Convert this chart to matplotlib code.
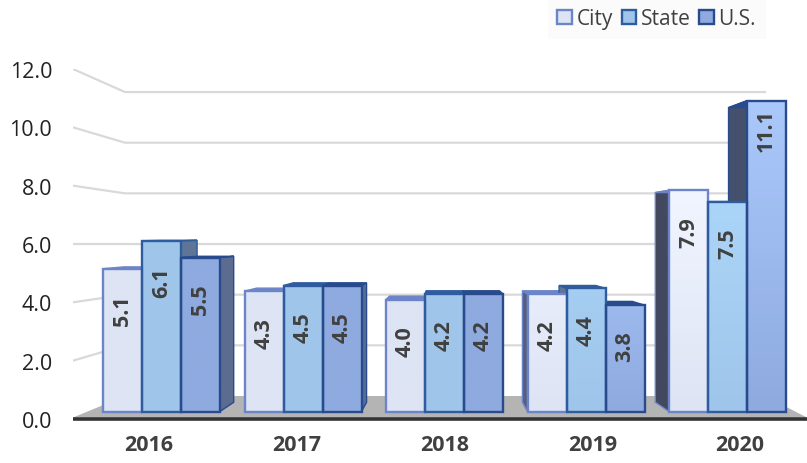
import numpy as np
import matplotlib
matplotlib.use('Agg')
import matplotlib.pyplot as plt
from matplotlib.colors import to_rgb
from matplotlib.patches import Patch, Polygon, Rectangle

years = ['2016', '2017', '2018', '2019', '2020']
city = [5.1, 4.3, 4.0, 4.2, 7.9]
state = [6.1, 4.5, 4.2, 4.4, 7.5]
us = [5.5, 4.5, 4.2, 3.8, 11.1]
y_ticks = [0, 2, 4, 6, 8, 10, 12]

names = ['City', 'State', 'U.S.']
fills = ['#dde4f4', '#9fc6ea', '#8eaadf']
tops = ['#f1f5ff', '#abd5f8', '#abc8fb']
edges = ['#6c84c8', '#2f5c9f', '#274b8c']
sides = ['#56607e', '#5f7596', '#5c6c90']
fade = [0, 0, 0, 0.5, 1]

W, H = 807, 464
plt.rcParams['font.family'] = ['Open Sans', 'DejaVu Sans']
fig = plt.figure(figsize=(W / 100, H / 100), dpi=100)
ax = fig.add_axes([73 / W, 1 - 420 / H, (807 - 73) / W, 350 / H])

# one group step = 141.5 px, one tick unit = 29.17 px
step = 141.5
unit = 350 / 12
ax.set_xlim((73 - 161.5) / step, (807 - 161.5) / step)
ax.set_ylim(0, 12)
bar_w = 39 / step


def front_y(v):
    return 7.5 / unit + v * 28 / unit


def wall_y(v):
    return 23 / unit + v * 25.33 / unit


def back(x, y):
    # depth goes towards a vanishing point behind the middle group
    return x + 0.061 * (2 - x), y + 0.052 * (185 / unit - y)


x0, x1 = ax.get_xlim()
wall_l, wall_r = (125 - 161.5) / step, (765 - 161.5) / step

# floor
ax.add_patch(Polygon([(x0, 0.05), (wall_l, wall_y(0)), (wall_r, wall_y(0)), (x1, 0.05)],
                     fc='#b4b4b4', ec='none', zorder=1))

# grid on the wall and the side
for t in y_ticks[1:]:
    ax.plot([x0, wall_l, wall_r], [t, wall_y(t), wall_y(t)], color='#d9d9d9', lw=1.6,
            zorder=1, solid_joinstyle='round')

for i in range(len(years)):
    vals = [city[i], state[i], us[i]]
    lefts = [i - 1.5 * bar_w + k * bar_w for k in range(3)]

    # side and top faces go first, the fronts then cover what is hidden
    for k in range(3):
        l, r = lefts[k], lefts[k] + bar_w
        yb, yt = front_y(0), front_y(vals[k])
        sx = r if i < 2 else l
        side = [(sx, yb), back(sx, yb), back(sx, yt), (sx, yt)]
        if i != 2:
            shade = np.array(to_rgb(sides[k])) * (1 - 0.25 * (i == 4))
            ax.add_patch(Polygon(side, fc=shade, ec=edges[k], lw=1, zorder=2))
        ax.add_patch(Polygon([(l, yt), (r, yt), back(r, yt), back(l, yt)],
                             fc=edges[k], ec=edges[k], lw=1, zorder=2))

    for k in range(3):
        l = lefts[k]
        yb, yt = front_y(0), front_y(vals[k])
        low = np.array(to_rgb(fills[k]))
        high = low + (np.array(to_rgb(tops[k])) - low) * fade[i]
        grad = np.linspace(high, low, 64).reshape(64, 1, 3)
        ax.imshow(grad, extent=(l, l + bar_w, yb, yt), aspect='auto', zorder=3)
        ax.add_patch(Rectangle((l, yb), bar_w, yt - yb, fc='none', ec=edges[k], lw=1.7, zorder=4))
        lift = 12 if vals[k] > 10 else 0
        ax.text(l + bar_w / 2, yt - (41 - lift) / unit, f'{vals[k]:.1f}', rotation=90, ha='center',
                va='center', fontsize=15.5, fontweight='bold', color='#404040', zorder=5)

ax.set_xlim(x0, x1)
ax.set_ylim(0, 12)

ax.plot([x0, x1], [0, 0], color='#333333', lw=2.6, zorder=6, clip_on=False,
        solid_capstyle='butt')
for s in ax.spines.values():
    s.set_visible(False)
ax.patch.set_visible(False)

ax.set_yticks(y_ticks)
ax.set_yticklabels([f'{t:.1f}' for t in y_ticks], fontsize=15.5, color='#222222')
ax.set_xticks([(149 + 147.75 * i - 161.5) / step for i in range(len(years))])
ax.set_xticklabels(years, fontsize=15.5, fontweight='bold', color='#404040')
ax.tick_params(axis='y', length=0, pad=15)
ax.tick_params(axis='x', length=0, pad=11)

handles = [Patch(fc=fills[k], ec=edges[k], lw=1.7, label=names[k]) for k in range(3)]
leg = fig.legend(handles=handles, ncol=3, loc='upper left', bbox_to_anchor=(548 / W, 1.0),
                 frameon=True, facecolor='#fafafa', edgecolor='none', fancybox=False,
                 fontsize=15, labelcolor='#404040', handlelength=0.68, handleheight=0.7,
                 handletextpad=0.24, columnspacing=0.42, borderaxespad=0, borderpad=0.45)

fig.savefig('out.png', dpi=100)
